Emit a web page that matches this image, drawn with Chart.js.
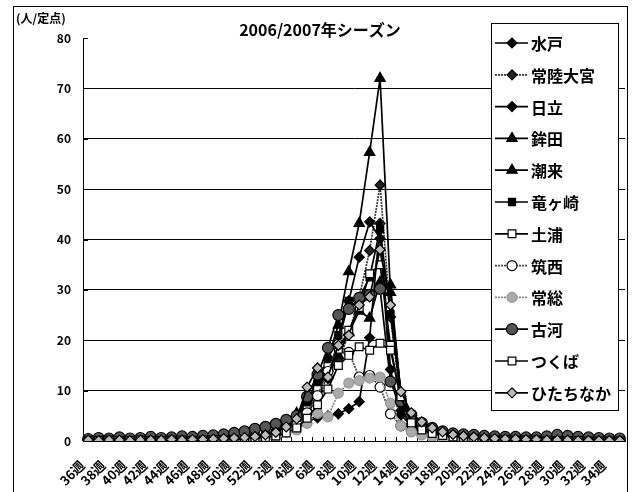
<!DOCTYPE html>
<html>
<head>
<meta charset="utf-8">
<script src="https://cdn.jsdelivr.net/npm/chart.js@4.4.0/dist/chart.umd.min.js"></script>
<style>
  html, body { margin: 0; padding: 0; background: #fff; }
  #wrap { width: 637px; height: 492px; position: relative; }
</style>
</head>
<body>
<div id="wrap"><canvas id="c" width="637" height="492"></canvas></div>
<script>
// Weekly influenza reports per sentinel site, Ibaraki, season 2006/2007 (week 36 .. week 35)
const categories = [
  '36週','37週','38週','39週','40週','41週','42週','43週','44週','45週','46週','47週','48週','49週','50週','51週','52週',
  '1週','2週','3週','4週','5週','6週','7週','8週','9週','10週','11週','12週','13週','14週','15週','16週','17週','18週',
  '19週','20週','21週','22週','23週','24週','25週','26週','27週','28週','29週','30週','31週','32週','33週','34週','35週'
];

const seriesNames = ['水戸','常陸大宮','日立','鉾田','潮来','竜ヶ崎','土浦','筑西','常総','古河','つくば','ひたちなか'];

const mito = [0.1,0.1,0.0,0.1,0.1,0.1,0.0,0.1,0.2,0.1,0.2,0.2,0.3,0.3,0.4,0.5,0.6,
  0.8,1.2,1.8,2.9,4.1,4.6,5.0,5.4,6.4,7.8,20.5,43.2,14.2,5.2,3.0,2.2,1.5,1.0,0.8,0.6,0.5,0.4,0.3,0.3,0.2,0.2,0.2,0.1,0.1,0.1,0.1,0.0,0.1,0.0,0.0];
const hitachiomiya = [0.0,0.2,0.1,0.2,0.1,0.1,0.2,0.1,0.1,0.2,0.2,0.3,0.2,0.4,0.5,0.6,0.9,
  1.1,1.6,2.7,4.5,6.8,9.8,12.4,16.0,21.2,28.5,37.8,50.8,24.6,7.8,4.2,2.8,2.0,1.4,1.1,0.9,0.6,0.5,0.4,0.3,0.3,0.2,0.2,0.1,0.2,0.1,0.1,0.1,0.0,0.1,0.0];
const hitachi = [0.2,0.1,0.2,0.1,0.2,0.2,0.1,0.2,0.3,0.2,0.3,0.3,0.4,0.5,0.6,0.8,1.0,
  1.2,2.0,3.2,5.0,7.6,10.5,13.8,19.5,27.8,36.5,43.5,40.2,12.0,6.0,3.4,2.5,1.8,1.3,1.0,0.8,0.7,0.5,0.4,0.4,0.3,0.3,0.2,0.2,0.2,0.1,0.2,0.1,0.1,0.1,0.0];
const hokota = [0.0,0.0,0.1,0.0,0.1,0.0,0.1,0.2,0.1,0.2,0.1,0.3,0.2,0.4,0.6,0.7,1.0,
  1.3,2.1,3.6,5.5,8.2,11.6,16.5,23.0,33.6,43.2,57.3,72.0,29.5,9.4,4.8,3.1,2.3,1.5,1.0,0.8,0.6,0.5,0.4,0.3,0.3,0.2,0.2,0.2,0.1,0.1,0.1,0.0,0.1,0.0,0.0];
const itako = [0.1,0.0,0.1,0.1,0.0,0.2,0.1,0.1,0.2,0.1,0.3,0.2,0.3,0.3,0.5,0.6,0.8,
  1.0,1.8,3.0,4.8,7.7,10.5,13.0,17.0,21.5,25.8,24.4,31.5,31.0,9.0,5.0,3.5,2.4,1.6,1.2,0.9,0.7,0.5,0.4,0.4,0.3,0.2,0.2,0.2,0.1,0.1,0.1,0.1,0.0,0.0,0.0];
const ryugasaki = [0.2,0.1,0.1,0.2,0.1,0.2,0.2,0.1,0.2,0.3,0.2,0.3,0.4,0.4,0.5,0.7,0.9,
  1.1,1.9,3.1,4.9,7.5,11.8,16.2,21.0,27.8,28.4,32.5,42.0,25.2,8.6,4.6,3.0,2.1,1.5,1.1,0.9,0.7,0.6,0.4,0.4,0.3,0.3,0.2,0.2,0.2,0.1,0.1,0.1,0.1,0.0,0.0];
const tsuchiura = [0.1,0.2,0.1,0.1,0.2,0.1,0.1,0.2,0.2,0.1,0.2,0.3,0.3,0.4,0.5,0.6,0.8,
  1.0,1.5,2.4,3.6,6.2,10.2,14.8,18.2,22.0,26.5,33.2,35.0,19.0,7.6,4.2,2.6,1.8,1.3,1.0,0.8,0.6,0.5,0.4,0.3,0.3,0.2,0.2,0.1,0.2,0.1,0.1,0.1,0.0,0.1,0.0];
const chikusei = [0.0,0.1,0.1,0.0,0.1,0.1,0.1,0.1,0.2,0.1,0.2,0.2,0.2,0.3,0.4,0.5,0.7,
  0.9,1.4,2.2,3.4,5.6,9.0,13.8,19.2,17.6,12.7,13.0,10.7,5.4,3.0,2.0,1.5,1.1,0.8,0.6,0.5,0.4,0.3,0.3,0.2,0.2,0.1,0.1,0.1,0.1,0.1,0.0,0.0,0.0,0.0,0.0];
const joso = [0.0,0.1,0.0,0.1,0.1,0.0,0.1,0.1,0.1,0.2,0.1,0.2,0.2,0.2,0.3,0.4,0.5,
  0.6,0.9,1.8,2.2,3.5,5.5,4.8,9.5,11.5,12.0,12.5,12.7,7.5,3.0,1.8,1.2,0.9,0.7,0.5,0.4,0.3,0.3,0.2,0.2,0.1,0.1,0.1,0.1,0.1,0.0,0.0,0.0,0.0,0.0,0.0];
const koga = [0.4,0.6,0.5,0.7,0.5,0.6,0.8,0.6,0.7,0.9,0.8,1.0,1.1,1.3,1.6,1.9,2.4,
  2.8,3.4,4.2,5.0,8.8,13.2,18.5,25.0,26.2,28.4,29.0,30.2,11.8,7.9,5.2,3.6,2.6,1.9,1.5,1.3,1.2,1.0,0.9,0.8,0.8,0.7,0.7,0.9,1.2,1.0,0.8,0.7,0.6,0.5,0.5];
const tsukuba = [0.1,0.1,0.2,0.1,0.1,0.2,0.1,0.1,0.2,0.2,0.1,0.2,0.3,0.3,0.3,0.4,0.6,
  0.7,1.0,1.6,2.6,4.5,7.2,10.3,15.0,17.0,18.7,18.0,19.4,18.0,8.8,3.6,2.2,1.5,1.1,0.8,0.7,0.5,0.4,0.3,0.3,0.2,0.2,0.2,0.1,0.1,0.1,0.1,0.0,0.0,0.0,0.0];
const hitachinaka = [0.2,0.1,0.2,0.2,0.1,0.2,0.2,0.2,0.3,0.2,0.3,0.3,0.4,0.5,0.6,0.7,0.9,
  1.2,1.7,2.8,4.4,10.7,14.5,12.7,19.0,21.0,27.0,28.6,38.0,27.0,9.8,5.6,3.8,2.6,1.8,1.3,1.0,0.8,0.6,0.5,0.4,0.4,0.3,0.3,0.2,0.2,0.2,0.1,0.1,0.1,0.1,0.1];

const seriesValues = [mito, hitachiomiya, hitachi, hokota, itako, ryugasaki, tsuchiura, chikusei, joso, koga, tsukuba, hitachinaka];

const yTicks = [0, 10, 20, 30, 40, 50, 60, 70, 80];

// Marker and line look for each site, in the same order as the names
const looks = [
  { shape: 'rectRot',  r: 5,   fill: '#000', edge: '#000', line: '#000', dash: [] },
  { shape: 'rectRot',  r: 5,   fill: '#222', edge: '#000', line: '#333', dash: [2, 1] },
  { shape: 'rectRot',  r: 5,   fill: '#000', edge: '#000', line: '#000', dash: [] },
  { shape: 'triangle', r: 6,   fill: '#000', edge: '#000', line: '#000', dash: [] },
  { shape: 'triangle', r: 6,   fill: '#000', edge: '#000', line: '#000', dash: [] },
  { shape: 'rect',     r: 5,   fill: '#000', edge: '#000', line: '#000', dash: [] },
  { shape: 'rect',     r: 5.5, fill: '#fff', edge: '#000', line: '#000', dash: [] },
  { shape: 'circle',   r: 5,   fill: '#fff', edge: '#000', line: '#444', dash: [2, 1] },
  { shape: 'circle',   r: 5,   fill: '#aaa', edge: '#999', line: '#888', dash: [2, 1] },
  { shape: 'circle',   r: 5.5, fill: '#555', edge: '#000', line: '#000', dash: [] },
  { shape: 'rect',     r: 5.5, fill: '#fff', edge: '#000', line: '#000', dash: [] },
  { shape: 'rectRot',  r: 5,   fill: '#bbb', edge: '#000', line: '#000', dash: [] }
];

const FONT = "'Noto Sans CJK JP', 'Noto Sans', sans-serif";

const datasets = seriesNames.map((name, i) => ({
  label: name,
  data: seriesValues[i],
  borderColor: looks[i].line,
  borderWidth: 1.7,
  borderDash: looks[i].dash,
  pointStyle: looks[i].shape,
  pointRadius: looks[i].r,
  pointBackgroundColor: looks[i].fill,
  pointBorderColor: looks[i].edge,
  pointBorderWidth: 1.2,
  tension: 0,
  fill: false,
  order: seriesNames.length - i
}));

// Frame, title, unit caption, inside tick marks, slanted week labels and the overlaid legend box
const decor = {
  id: 'decor',
  beforeDraw(chart) {
    const ctx = chart.ctx;
    ctx.save();
    ctx.fillStyle = '#fff';
    ctx.fillRect(0, 0, chart.width, chart.height);
    ctx.strokeStyle = '#000';
    ctx.lineWidth = 1;
    ctx.strokeRect(13.5, 6.5, 614, 500);
    ctx.fillStyle = '#000';
    ctx.font = 'bold 12px ' + FONT;
    ctx.textBaseline = 'middle';
    ctx.textAlign = 'left';
    ctx.fillText('(人/定点)', 16, 18);
    ctx.font = 'bold 16px ' + FONT;
    ctx.textAlign = 'center';
    ctx.fillText('2006/2007年シーズン', 320, 30);
    ctx.restore();
  },
  beforeDatasetsDraw(chart) {
    const ctx = chart.ctx;
    const ys = chart.scales.y;
    const a = chart.chartArea;
    ctx.save();
    ctx.strokeStyle = '#000';
    ctx.lineWidth = 1;
    ctx.beginPath();
    const step = (a.right - a.left) / categories.length;
    for (let k = 1; k < categories.length; k++) {
      const x = Math.round(a.left + k * step) + 0.5;
      ctx.moveTo(x, a.bottom);
      ctx.lineTo(x, a.bottom - 4);
    }
    yTicks.forEach(v => {
      const y = Math.round(ys.getPixelForValue(v)) + 0.5;
      ctx.moveTo(a.left, y);
      ctx.lineTo(a.left + 5, y);
    });
    ctx.stroke();
    ctx.restore();
  },
  afterDraw(chart) {
    const ctx = chart.ctx;
    const xs = chart.scales.x;
    // week labels, every second category, slanted 45 degrees
    ctx.save();
    ctx.fillStyle = '#000';
    ctx.font = 'bold 13px ' + FONT;
    ctx.textAlign = 'right';
    ctx.textBaseline = 'middle';
    categories.forEach((lab, i) => {
      if (i % 2 !== 0) return;
      const x = xs.getPixelForValue(i);
      ctx.save();
      ctx.translate(x - 6, 463);
      ctx.rotate(-Math.PI / 4);
      ctx.fillText(lab, 0, 0);
      ctx.restore();
    });
    ctx.restore();

    const bx = 491, by = 23, bw = 127, bh = 387;
    ctx.save();
    ctx.fillStyle = '#fff';
    ctx.fillRect(bx, by, bw, bh);
    ctx.strokeStyle = '#000';
    ctx.lineWidth = 1;
    ctx.strokeRect(bx + 0.5, by + 0.5, bw, bh);
    chart.data.datasets.forEach((ds, i) => {
      const y = 43 + i * 31.8;
      const lk = looks[i];
      ctx.save();
      ctx.strokeStyle = lk.line;
      ctx.lineWidth = 1.7;
      ctx.setLineDash(lk.dash);
      ctx.beginPath();
      ctx.moveTo(495, y);
      ctx.lineTo(528, y);
      ctx.stroke();
      ctx.setLineDash([]);
      ctx.fillStyle = lk.fill;
      ctx.strokeStyle = lk.edge;
      ctx.lineWidth = 1.2;
      Chart.helpers.drawPoint(ctx, { pointStyle: lk.shape, radius: lk.r, rotation: 0, borderWidth: 1.2 }, 512, y);
      ctx.restore();
      ctx.fillStyle = '#000';
      ctx.font = 'bold 16px ' + FONT;
      ctx.textAlign = 'left';
      ctx.textBaseline = 'middle';
      ctx.fillText(ds.label, 531, y + 1);
    });
    ctx.restore();
  }
};

new Chart(document.getElementById('c'), {
  type: 'line',
  data: { labels: categories, datasets },
  options: {
    responsive: false,
    animation: false,
    devicePixelRatio: 1,
    layout: { padding: { top: 38, right: 12, left: 0, bottom: 0 } },
    plugins: { legend: { display: false }, title: { display: false }, tooltip: { enabled: false } },
    scales: {
      x: {
        type: 'category',
        offset: true,
        grid: { display: false, drawTicks: false, tickLength: 0 },
        border: { display: true, color: '#000', width: 1 },
        ticks: { display: false, autoSkip: false },
        afterFit: s => { s.height = 51; }
      },
      y: {
        min: 0,
        max: 80,
        afterBuildTicks: s => { s.ticks = yTicks.map(v => ({ value: v })); },
        grid: {
          drawTicks: false,
          color: c => (c.tick && c.tick.value > 0 && c.tick.value < 80 ? '#000' : 'rgba(0,0,0,0)'),
          lineWidth: 1
        },
        border: { display: true, color: '#000', width: 1 },
        ticks: {
          padding: 12,
          color: '#000',
          font: { family: FONT, size: 12, weight: 'bold' }
        },
        afterFit: s => { s.width = 83; }
      }
    }
  },
  plugins: [decor]
});
</script>
</body>
</html>
